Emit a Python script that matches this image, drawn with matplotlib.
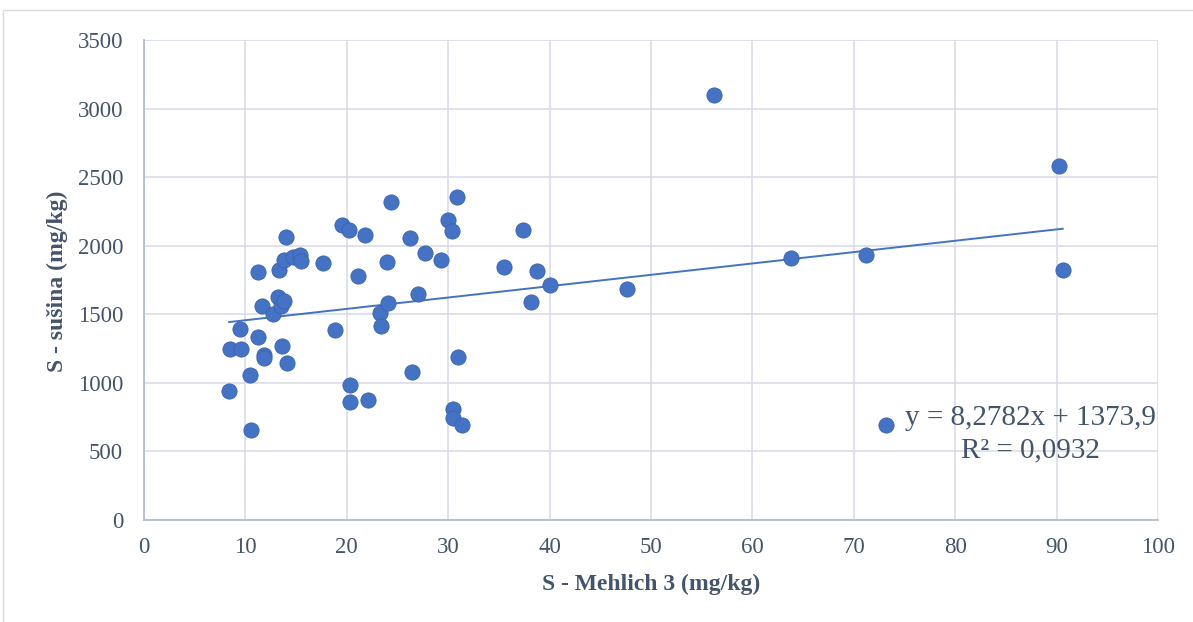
import numpy as np
import matplotlib.pyplot as plt
from matplotlib.patches import Rectangle

# S - Mehlich 3 (mg/kg) vs S - sušina (mg/kg)
s_mehlich = [8.4, 8.5, 9.5, 9.6, 10.5, 10.6, 11.2, 11.2, 11.6, 11.8,
             11.8, 12.7, 13.2, 13.3, 13.5, 13.6, 13.8, 13.8, 14.0, 14.1,
             14.7, 15.4, 15.5, 17.7, 18.8, 19.5, 20.2, 20.3, 20.3, 21.1,
             21.8, 22.1, 23.3, 23.4, 24.0, 24.1, 24.4, 26.2, 26.4, 27.0,
             27.7, 29.3, 30.0, 30.4, 30.5, 30.5, 30.9, 31.0, 31.4, 35.5,
             37.4, 38.2, 38.8, 40.0, 47.6, 56.2, 63.8, 71.2, 73.2, 90.2,
             90.6]
s_susina = [941, 1247, 1393, 1247, 1057, 656, 1808, 1334, 1560, 1203,
            1181, 1502, 1626, 1823, 1560, 1269, 1597, 1896, 2063, 1145,
            1918, 1932, 1889, 1874, 1385, 2151, 2115, 984, 860, 1779,
            2078, 875, 1509, 1415, 1881, 1582, 2319, 2056, 1079, 1648,
            1947, 1896, 2188, 2107, 809, 744, 2355, 1189, 693, 1845,
            2115, 1590, 1816, 1714, 1684, 3099, 1910, 1932, 693, 2581,
            1823]

# trendline as given in the chart label
slope = 8.2782
intercept = 1373.9
eq_text = "y = 8,2782x + 1373,9"
r2_text = "R² = 0,0932"

x_ticks = list(range(0, 101, 10))
y_ticks = list(range(0, 3501, 500))

serif = ['Liberation Serif', 'DejaVu Serif']
text_col = '#44546a'
grid_col = '#d9dde6'
blue = '#4472C4'

fig = plt.figure(figsize=(11.93, 6.22), dpi=100)
fig.patches.append(Rectangle((3 / 1193, -0.01), 1.1, 1 - 10 / 622 + 0.01,
                             transform=fig.transFigure, fill=False,
                             edgecolor='#d9d9d9', linewidth=1))

ax = fig.add_axes([144 / 1193, 102 / 622, 1014 / 1193, 480 / 622])
ax.set_xlim(0, 100)
ax.set_ylim(0, 3500)
ax.set_xticks(x_ticks)
ax.set_yticks(y_ticks)
ax.grid(True, color=grid_col, linewidth=1.2)
ax.set_axisbelow(True)
for side in ['top', 'right']:
    ax.spines[side].set_visible(False)
for side in ['left', 'bottom']:
    ax.spines[side].set_color('#b4bccc')
    ax.spines[side].set_linewidth(1.3)
ax.tick_params(length=0, labelcolor=text_col)
ax.tick_params(axis='x', pad=12)
ax.tick_params(axis='y', pad=15)
for lab in ax.get_xticklabels() + ax.get_yticklabels():
    lab.set_family(serif)
    lab.set_fontsize(16.5)

ax.scatter(s_mehlich, s_susina, s=120, color=blue, edgecolor='#3a63b0',
           linewidth=0.6, zorder=3)

xs = np.array([min(s_mehlich), max(s_mehlich)])
ax.plot(xs, slope * xs + intercept, color=blue, linewidth=1.4, zorder=2)

ax.text(0.998, 0.2125, eq_text, transform=ax.transAxes, ha='right',
        va='center', family=serif, fontsize=21, color=text_col)
ax.text(0.943, 0.1448, r2_text, transform=ax.transAxes, ha='right',
        va='center', family=serif, fontsize=21, color=text_col)

ax.set_xlabel("S - Mehlich 3 (mg/kg)", family=serif, fontsize=17,
              fontweight='bold', color=text_col, va='center')
ax.xaxis.set_label_coords(0.5, -0.135)
ax.set_ylabel("S - sušina (mg/kg)", family=serif, fontsize=17,
              fontweight='bold', color=text_col, va='center')
ax.yaxis.set_label_coords(-0.0858, 0.498)

fig.savefig('out.png', dpi=100)
